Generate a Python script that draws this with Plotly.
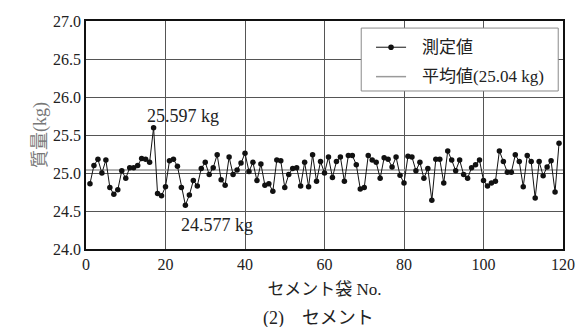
import plotly.graph_objects as go

# Mass of each cement bag (kg), bags No. 1-119
bag_no = list(range(1, 120))
mass_kg = [
    24.86, 25.10, 25.18, 25.00, 25.17, 24.81, 24.72, 24.78, 25.03, 24.93,
    25.07, 25.07, 25.10, 25.19, 25.18, 25.14, 25.597, 24.73, 24.70, 24.82,
    25.16, 25.18, 25.09, 24.81, 24.577, 24.71, 24.90, 24.83, 25.06, 25.14,
    24.98, 25.07, 25.24, 24.91, 24.84, 25.21, 24.98, 25.04, 25.13, 25.26,
    25.02, 25.14, 24.90, 25.12, 24.84, 24.86, 24.76, 25.17, 25.16, 24.81,
    24.98, 25.06, 25.07, 24.83, 25.14, 24.82, 25.24, 24.89, 25.15, 25.00,
    25.21, 24.94, 25.15, 25.21, 24.89, 25.23, 25.23, 25.11, 24.79, 24.81,
    25.23, 25.17, 25.14, 24.93, 25.20, 25.18, 25.08, 25.21, 24.97, 24.87,
    25.22, 25.21, 25.03, 25.14, 24.93, 25.06, 24.64, 25.18, 25.18, 24.87,
    25.29, 25.17, 25.03, 25.17, 24.98, 24.93, 25.07, 25.11, 25.17, 24.90,
    24.83, 24.87, 24.89, 25.29, 25.15, 25.01, 25.01, 25.24, 25.15, 24.82,
    25.23, 25.15, 24.67, 25.15, 24.965, 25.08, 25.16, 24.75, 25.39,
]
mean_kg = 25.04
max_no, max_kg = 17, 25.597
min_no, min_kg = 25, 24.577

x_range = [0, 120]
y_range = [24.0, 27.0]
x_ticks = [0, 20, 40, 60, 80, 100, 120]
y_ticks = [24.0, 24.5, 25.0, 25.5, 26.0, 26.5, 27.0]

legend_names = ["測定値", f"平均値({mean_kg:.2f} kg)"]

FONT = "Liberation Serif, Noto Sans CJK JP, serif"
TXT = "#222222"
DATA_CLR = "#111111"
MEAN_CLR = "#9a9a9a"

fig = go.Figure()

fig.add_trace(go.Scatter(
    x=x_range, y=[mean_kg, mean_kg],
    mode="lines",
    line=dict(color=MEAN_CLR, width=1.5),
    name=legend_names[1],
))

fig.add_trace(go.Scatter(
    x=bag_no, y=mass_kg,
    mode="lines+markers",
    line=dict(color=DATA_CLR, width=1),
    marker=dict(color=DATA_CLR, size=5.5),
    name=legend_names[0],
))

# Labels on the heaviest and lightest bags
fig.add_annotation(x=max_no, y=max_kg, text=f"{max_kg:.3f} kg",
                   showarrow=False, xanchor="left", yanchor="middle",
                   xshift=-9, yshift=12, font=dict(family=FONT, size=18, color=TXT))
fig.add_annotation(x=min_no, y=min_kg, text=f"{min_kg:.3f} kg",
                   showarrow=False, xanchor="left", yanchor="middle",
                   xshift=-6, yshift=-20, font=dict(family=FONT, size=18, color=TXT))

# Caption under the axis title
fig.add_annotation(x=0.487, y=-0.305, xref="paper", yref="paper",
                   text="(2)\u3000セメント", showarrow=False,
                   xanchor="center", yanchor="middle",
                   font=dict(family=FONT, size=18, color=TXT))

# Boxed legend in the upper right of the plot area
lg_x0, lg_x1, lg_top, lg_bot = 0.577, 0.990, 0.969, 0.693
row_y = [0.885, 0.756]
sym_x0, sym_x1, txt_x = 0.608, 0.671, 0.700
fig.add_shape(type="rect", xref="paper", yref="paper",
              x0=lg_x0, x1=lg_x1, y0=lg_bot, y1=lg_top,
              line=dict(color="#8a8a8a", width=1), fillcolor="white", layer="above")
fig.add_shape(type="line", xref="paper", yref="paper",
              x0=sym_x0, x1=sym_x1, y0=row_y[0], y1=row_y[0],
              line=dict(color=DATA_CLR, width=1), layer="above")
fig.add_shape(type="circle", xref="paper", yref="paper",
              xsizemode="pixel", ysizemode="pixel",
              xanchor=(sym_x0 + sym_x1) / 2, yanchor=row_y[0],
              x0=-2.8, x1=2.8, y0=-2.8, y1=2.8,
              line=dict(color=DATA_CLR, width=0), fillcolor=DATA_CLR, layer="above")
fig.add_shape(type="line", xref="paper", yref="paper",
              x0=sym_x0, x1=sym_x1, y0=row_y[1], y1=row_y[1],
              line=dict(color=MEAN_CLR, width=1.5), layer="above")
for name, ry in zip(legend_names, row_y):
    fig.add_annotation(x=txt_x, y=ry, xref="paper", yref="paper", text=name,
                       showarrow=False, xanchor="left", yanchor="middle",
                       font=dict(family=FONT, size=17, color=TXT))

fig.update_layout(
    width=587, height=327,
    margin=dict(l=86, r=14, t=21, b=78),
    paper_bgcolor="white", plot_bgcolor="white",
    font=dict(family=FONT, size=16, color=TXT),
    showlegend=False,
)

fig.update_xaxes(
    range=x_range, tickvals=x_ticks, ticks="",
    showgrid=True, gridcolor="#555555", gridwidth=1,
    showline=True, linecolor="#111111", linewidth=1.5, mirror=True,
    zeroline=False,
    title=dict(text="セメント袋 No.", standoff=11,
               font=dict(family=FONT, size=17, color=TXT)),
)
fig.update_yaxes(
    range=y_range, tickvals=y_ticks, tickformat=".1f", ticks="",
    showgrid=True, gridcolor="#555555", gridwidth=1,
    showline=True, linecolor="#111111", linewidth=1.5, mirror=True,
    zeroline=False,
    title=dict(text="質量(kg)", standoff=2,
               font=dict(family=FONT, size=18, color="#777777")),
)

fig.write_html("out.html")
